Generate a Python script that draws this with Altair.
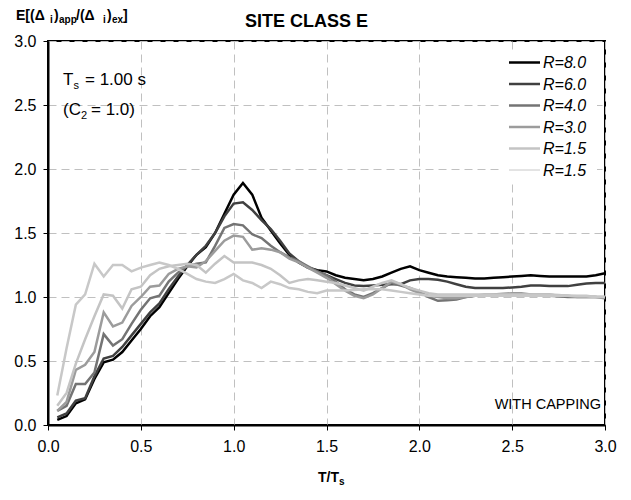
import altair as alt
import pandas as pd

FONT = "Liberation Sans"

# T/Ts sample points
T = [0.05, 0.10, 0.15, 0.20, 0.25, 0.30, 0.35, 0.40, 0.45, 0.50,
     0.55, 0.60, 0.65, 0.70, 0.75, 0.80, 0.85, 0.90, 0.95, 1.00,
     1.05, 1.10, 1.15, 1.20, 1.25, 1.30, 1.35, 1.40, 1.45, 1.50,
     1.55, 1.60, 1.65, 1.70, 1.75, 1.80, 1.85, 1.90, 1.95, 2.00,
     2.05, 2.10, 2.15, 2.20, 2.25, 2.30, 2.35, 2.40, 2.45, 2.50,
     2.55, 2.60, 2.65, 2.70, 2.75, 2.80, 2.85, 2.90, 2.95, 3.00]

R80 = [0.04, 0.07, 0.17, 0.20, 0.36, 0.49, 0.51, 0.57, 0.66, 0.75,
       0.85, 0.92, 1.03, 1.14, 1.24, 1.33, 1.39, 1.50, 1.65, 1.80,
       1.89, 1.80, 1.62, 1.52, 1.42, 1.33, 1.27, 1.23, 1.21, 1.20,
       1.17, 1.15, 1.14, 1.13, 1.14, 1.16, 1.19, 1.22, 1.24, 1.21,
       1.19, 1.17, 1.16, 1.155, 1.15, 1.145, 1.145, 1.15, 1.155, 1.16,
       1.165, 1.17, 1.165, 1.16, 1.16, 1.16, 1.16, 1.16, 1.17, 1.185]

R60 = [0.06, 0.09, 0.19, 0.21, 0.38, 0.52, 0.54, 0.61, 0.70, 0.79,
       0.88, 0.95, 1.06, 1.16, 1.25, 1.33, 1.40, 1.50, 1.63, 1.73,
       1.74, 1.68, 1.60, 1.53, 1.44, 1.34, 1.28, 1.23, 1.20, 1.17,
       1.14, 1.11, 1.09, 1.085, 1.09, 1.095, 1.10, 1.10, 1.13, 1.14,
       1.14, 1.135, 1.12, 1.10, 1.08, 1.07, 1.07, 1.07, 1.07, 1.075,
       1.08, 1.09, 1.09, 1.085, 1.085, 1.085, 1.095, 1.105, 1.11, 1.11]

R40 = [0.11, 0.15, 0.32, 0.32, 0.41, 0.71, 0.62, 0.67, 0.79, 0.90,
       0.99, 1.01, 1.12, 1.19, 1.24, 1.26, 1.27, 1.40, 1.54, 1.57,
       1.56, 1.49, 1.46, 1.40, 1.35, 1.31, 1.28, 1.24, 1.20, 1.17,
       1.12, 1.06, 1.02, 1.00, 1.03, 1.07, 1.11, 1.09, 1.07, 1.04,
       1.00, 0.97, 0.975, 0.98, 1.00, 1.01, 1.01, 1.015, 1.02, 1.02,
       1.02, 1.015, 1.01, 1.01, 1.005, 1.00, 1.00, 1.00, 1.00, 0.99]

R30 = [0.11, 0.18, 0.43, 0.47, 0.57, 0.88, 0.77, 0.80, 0.93, 1.00,
       1.08, 1.09, 1.18, 1.22, 1.24, 1.23, 1.28, 1.36, 1.44, 1.48,
       1.47, 1.37, 1.38, 1.37, 1.35, 1.30, 1.27, 1.23, 1.19, 1.15,
       1.10, 1.05, 1.01, 0.99, 1.02, 1.07, 1.12, 1.10, 1.06, 1.03,
       1.01, 1.00, 0.99, 0.99, 1.00, 1.01, 1.02, 1.02, 1.025, 1.03,
       1.03, 1.02, 1.02, 1.02, 1.01, 1.01, 1.00, 1.00, 1.00, 1.00]

R15 = [0.15, 0.25, 0.48, 0.67, 0.85, 1.02, 1.01, 0.91, 1.06, 1.08,
       1.17, 1.22, 1.24, 1.25, 1.26, 1.25, 1.19, 1.26, 1.32, 1.27,
       1.27, 1.27, 1.25, 1.22, 1.17, 1.11, 1.13, 1.14, 1.13, 1.12,
       1.11, 1.09, 1.07, 1.05, 1.08, 1.11, 1.13, 1.10, 1.07, 1.05,
       1.03, 1.02, 1.02, 1.02, 1.02, 1.02, 1.02, 1.02, 1.02, 1.02,
       1.02, 1.02, 1.02, 1.02, 1.015, 1.01, 1.01, 1.01, 1.00, 1.00]

R15_thin = [0.23, 0.60, 0.94, 1.02, 1.26, 1.16, 1.25, 1.25, 1.20, 1.23,
            1.25, 1.27, 1.25, 1.22, 1.18, 1.14, 1.12, 1.11, 1.14, 1.18,
            1.13, 1.11, 1.07, 1.12, 1.10, 1.07, 1.06, 1.04, 1.03, 1.05,
            1.05, 1.05, 1.055, 1.06, 1.06, 1.06, 1.05, 1.04, 1.03, 1.02,
            1.01, 1.01, 1.01, 1.01, 1.01, 1.01, 1.01, 1.01, 1.01, 1.01,
            1.01, 1.01, 1.01, 1.01, 1.01, 1.01, 1.005, 1.005, 1.00, 1.00]

series_names = ["R=8.0", "R=6.0", "R=4.0", "R=3.0", "R=1.5", "R=1.5 "]
series_values = [R80, R60, R40, R30, R15, R15_thin]
colors = ["#000000", "#404040", "#747474", "#9c9c9c", "#c4c4c4", "#c8c8c8"]
widths = [2.5, 2.5, 2.5, 2.5, 2.5, 1.0]

ticks = [0.0, 0.5, 1.0, 1.5, 2.0, 2.5, 3.0]

rows = []
for name, vals in zip(series_names, series_values):
    for t, v in zip(T, vals):
        rows.append({"T": t, "v": v, "series": name})
df = pd.DataFrame(rows)

lines = alt.Chart(df).mark_line(strokeJoin="miter").encode(
    x=alt.X("T:Q", scale=alt.Scale(domain=[0, 3], nice=False, zero=False),
            axis=alt.Axis(values=ticks, format=".1f", title=None,
                          labelPadding=8, labelFlush=False)),
    y=alt.Y("v:Q", scale=alt.Scale(domain=[0, 3], nice=False),
            axis=alt.Axis(values=ticks, format=".1f", title=None,
                          labelPadding=7, labelFlush=False)),
    color=alt.Color("series:N", scale=alt.Scale(domain=series_names, range=colors),
                    legend=None),
    strokeWidth=alt.StrokeWidth("series:N",
                                scale=alt.Scale(domain=series_names, range=widths),
                                legend=None),
)

OX, OY = 48, 41  # plot origin on page


def txt(s, px, py, size, bold=False, align="left", italic=False):
    return alt.Chart(pd.DataFrame({"a": [0]})).mark_text(
        text=s, font=FONT, fontSize=size, align=align, baseline="alphabetic",
        fontWeight="bold" if bold else "normal",
        fontStyle="italic" if italic else "normal", color="#000000",
    ).encode(x=alt.value(px - OX), y=alt.value(py - OY))


# legend box (white background hiding gridlines)
legend_box = alt.Chart(pd.DataFrame({"a": [0]})).mark_rect(
    fill="#ffffff", stroke=None
).encode(
    x=alt.value(499 - OX), x2=alt.value(597 - OX),
    y=alt.value(50 - OY), y2=alt.value(181 - OY),
)

# legend (symbol line + label), one row per series
legend_layers = [legend_box]
for i, (name, col, w) in enumerate(zip(series_names, colors, widths)):
    cy = 62.5 + 21.5 * i
    legend_layers.append(
        alt.Chart(pd.DataFrame({"a": [0]})).mark_rule(color=col, strokeWidth=w).encode(
            x=alt.value(509 - OX), x2=alt.value(540 - OX), y=alt.value(cy - OY)
        )
    )
    legend_layers.append(txt(name.strip(), 543, cy + 5.8, 16, italic=True))

annotations = [
    # y title  E[(Δ i)app/(Δ i)ex]
    txt("E[(Δ", 16, 19.5, 14, True),
    txt("i", 50, 22.5, 10, True),
    txt(")", 54, 19.5, 14, True),
    txt("app", 59, 22.5, 10, True),
    txt("/(Δ", 76, 19.5, 14, True),
    txt("i", 103, 22.5, 10, True),
    txt(")", 107, 19.5, 14, True),
    txt("ex", 112, 22.5, 10, True),
    txt("]", 123, 19.5, 14, True),
    # chart title
    txt("SITE CLASS E", 245, 26.5, 18, True),
    # x title T/Ts
    txt("T/T", 318, 481.5, 14, True),
    txt("s", 339, 485, 10, True),
    # Ts = 1.00 s
    txt("T", 63, 85, 17),
    txt("s", 73.5, 89, 11),
    txt("= 1.00 s", 85, 85, 17),
    # (C2 = 1.0)
    txt("(C", 63, 115, 17),
    txt("2", 81, 119, 11),
    txt("= 1.0)", 91, 115, 17),
    # capping note
    txt("WITH CAPPING", 601, 409, 14.5, align="right"),
]

chart = alt.layer(lines, *legend_layers, *annotations).properties(
    width=557, height=384,
    autosize=alt.AutoSizeParams(type="none"),
    padding={"left": 40, "top": 33, "right": 18, "bottom": 75},
).configure_view(
    stroke="#000000", strokeWidth=2,
).configure_axis(
    labelFont=FONT, labelFontSize=16, labelColor="#000000",
    domainColor="#000000", domainWidth=2,
    tickColor="#000000", tickSize=5, tickWidth=1,
    grid=True, gridColor="#c0c0c0", gridDash=[8, 5], gridWidth=1,
)

chart.save("out.html", embed_options={"renderer": "svg", "actions": False})
